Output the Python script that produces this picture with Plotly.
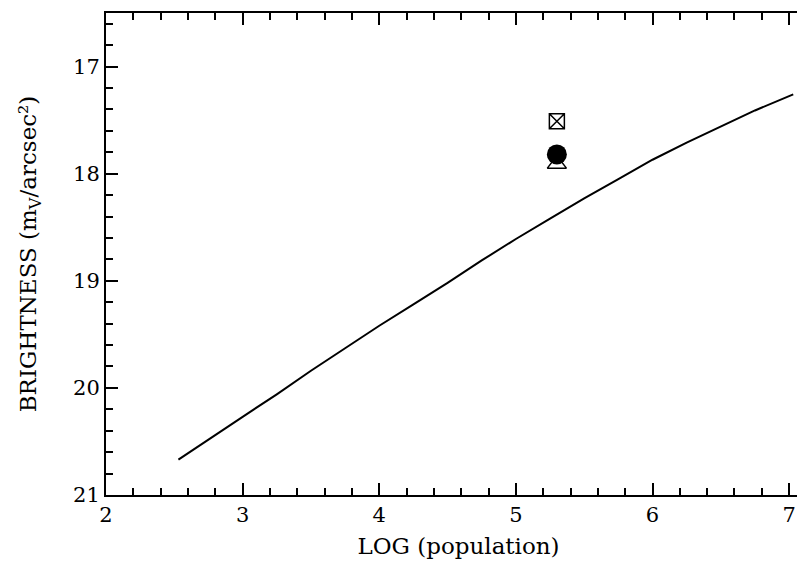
import plotly.graph_objects as go

# Model curve
log_pop = [2.53, 2.75, 3.0, 3.25, 3.5, 3.75, 4.0, 4.25, 4.5, 4.75, 5.0,
           5.25, 5.5, 5.75, 6.0, 6.25, 6.5, 6.75, 7.03]
brightness = [20.67, 20.48, 20.27, 20.06, 19.84, 19.63, 19.42, 19.22, 19.02,
              18.81, 18.61, 18.42, 18.23, 18.05, 17.87, 17.71, 17.56, 17.41, 17.26]

# Observed points
obs_x = [5.3]
obs_square = [17.51]
obs_circle = [17.82]
obs_triangle = [17.91]

x_ticks = [2, 3, 4, 5, 6, 7]
y_ticks = [17, 18, 19, 20, 21]

FONT = "DejaVu Serif"

fig = go.Figure()
fig.add_trace(go.Scatter(x=log_pop, y=brightness, mode="lines",
                         line=dict(color="black", width=2), showlegend=False))
fig.add_trace(go.Scatter(x=obs_x, y=obs_triangle, mode="markers",
                         marker=dict(symbol="triangle-up-open", size=16.5, color="black",
                                     line=dict(width=1.5, color="black")), showlegend=False))
fig.add_trace(go.Scatter(x=obs_x, y=obs_circle, mode="markers",
                         marker=dict(symbol="circle", size=20, color="black"), showlegend=False))
fig.add_trace(go.Scatter(x=obs_x, y=obs_square, mode="markers",
                         marker=dict(symbol="square-x-open", size=15, color="black",
                                     line=dict(width=1.5, color="black")), showlegend=False))

axis_common = dict(showline=True, linecolor="black", linewidth=2, mirror="ticks",
                   ticks="inside", ticklen=12, tickwidth=1.5, tickcolor="black",
                   showgrid=False, zeroline=False,
                   tickfont=dict(family=FONT, size=21, color="black"))

fig.update_xaxes(range=[2, 7.16], tickvals=x_ticks, ticktext=[str(v) for v in x_ticks],
                 minor=dict(dtick=0.2, tick0=2, ticks="inside", ticklen=7, tickwidth=1.5,
                            tickcolor="black", showgrid=False),
                 title=dict(text="LOG (population)", font=dict(family=FONT, size=23, color="black"),
                            standoff=12),
                 **axis_common)
fig.update_yaxes(range=[21, 16.5], tickvals=y_ticks, ticktext=[str(v) for v in y_ticks],
                 minor=dict(dtick=0.2, tick0=17, ticks="inside", ticklen=7, tickwidth=1.5,
                            tickcolor="black", showgrid=False),
                 title=dict(text="BRIGHTNESS (m<sub>V</sub>/arcsec²)",
                            font=dict(family=FONT, size=23, color="black"), standoff=30),
                 **axis_common)

fig.update_layout(width=805, height=570, margin=dict(l=98, r=0, t=5, b=83),
                  plot_bgcolor="white", paper_bgcolor="white")

fig.write_html("out.html")
